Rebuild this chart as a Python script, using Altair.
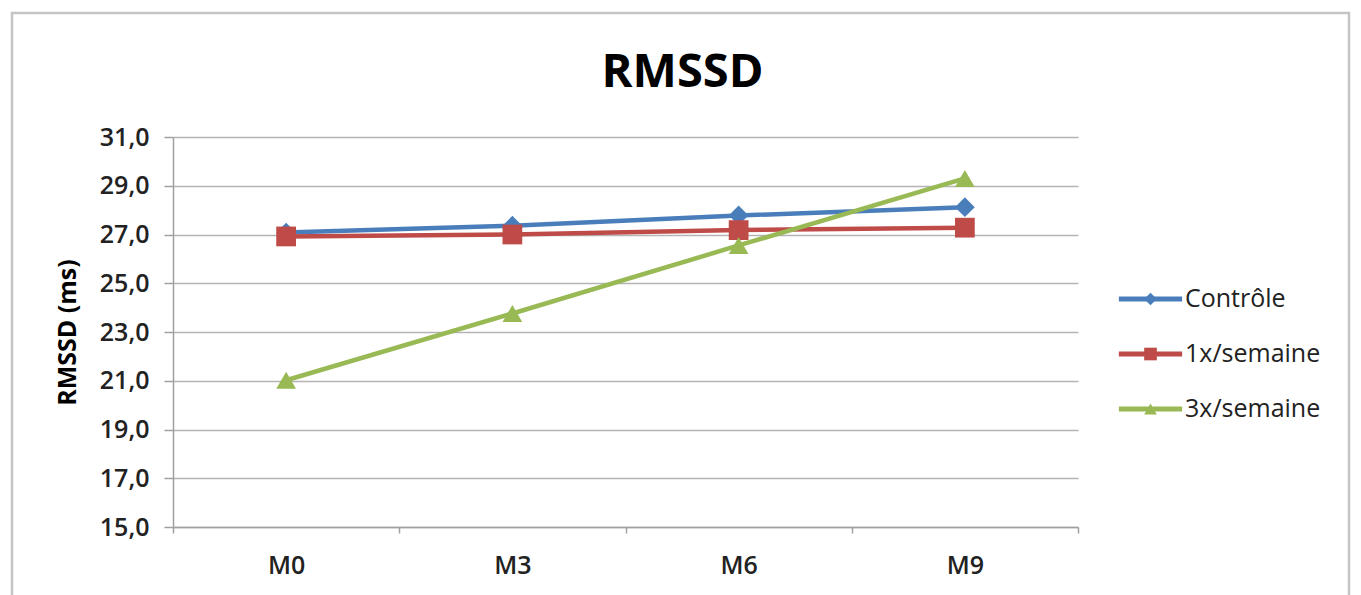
import altair as alt
import pandas as pd

# ---- data ----
months = ["M0", "M3", "M6", "M9"]
series_names = ["Contrôle", "1x/semaine", "3x/semaine"]
controle = [27.08, 27.36, 27.78, 28.12]
une_fois = [26.92, 27.00, 27.18, 27.28]
trois_fois = [21.02, 23.76, 26.55, 29.30]
y_ticks = [15, 17, 19, 21, 23, 25, 27, 29, 31]

colors = ["#4a7ebb", "#be4b48", "#98b954"]
shapes = ["diamond", "square", "triangle-up"]

rows = []
for name, vals in zip(series_names, [controle, une_fois, trois_fois]):
    for m, v in zip(months, vals):
        rows.append({"mois": m, "serie": name, "serie_m": name, "rmssd": v})
df = pd.DataFrame(rows)

FONT = "Open Sans"
GRID = "#b4b4b4"
AXIS = "#a0a0a0"
TXT = "#222222"

x_enc = alt.X(
    "mois:N",
    sort=months,
    scale=alt.Scale(type="band", paddingInner=0, paddingOuter=0),
    axis=alt.Axis(
        title=None, tickBand="extent", labelAngle=0, labelFont=FONT,
        labelFontSize=25, labelFontWeight=600, labelColor=TXT, labelPadding=20,
        tickSize=6, tickColor=AXIS, tickWidth=1.5, domainColor=AXIS,
        domainWidth=1.5, grid=False,
    ),
)
y_enc = alt.Y(
    "rmssd:Q",
    scale=alt.Scale(domain=[15, 31], nice=False, zero=False),
    axis=alt.Axis(
        title="RMSSD (ms)", values=y_ticks,
        labelExpr="replace(format(datum.value, '.1f'), '.', ',')",
        labelFont=FONT, labelFontSize=25, labelFontWeight=600, labelColor=TXT,
        labelPadding=15, tickSize=9, tickColor=AXIS, tickWidth=1.5,
        domainColor=AXIS, domainWidth=1.5, grid=True, gridColor=GRID,
        gridWidth=1.5, titleFont=FONT, titleFontSize=25, titleFontWeight="bold",
        titleColor="#000000", titleX=-106, titleY=195, titleAngle=270,
        titleAlign="center", titleBaseline="middle",
    ),
)

LX, LY = 965, 149.5
common_legend = dict(
    orient="none", legendX=LX, legendY=LY, title=None, padding=0,
    labelFont=FONT, labelFontSize=25, labelColor=TXT, rowPadding=29,
    symbolSize=160, labelOffset=22, direction="vertical",
)

frame = alt.Chart(alt.Data(values=[{"k": 1}])).mark_rect(
    fillOpacity=0, stroke="#c4c4c4", strokeWidth=2.5
).encode(
    x=alt.value(-161), x2=alt.value(1176), y=alt.value(-124), y2=alt.value(490)
)

lines = alt.Chart(df).mark_line(strokeWidth=4.5).encode(
    x=x_enc,
    y=y_enc,
    color=alt.Color(
        "serie:N", sort=series_names, scale=alt.Scale(range=colors),
        legend=alt.Legend(symbolType="M-5,0H5", symbolStrokeWidth=5,
                          labelOpacity=0, **common_legend),
    ),
)

points = alt.Chart(df).mark_point(filled=True, size=390, opacity=1, strokeWidth=0).encode(
    x=x_enc,
    y=y_enc,
    fill=alt.Fill(
        "serie_m:N", scale=alt.Scale(domain=series_names, range=colors),
        legend=alt.Legend(symbolStrokeWidth=0, symbolOpacity=1, **common_legend),
    ),
    shape=alt.Shape(
        "serie_m:N", scale=alt.Scale(domain=series_names, range=shapes),
        legend=alt.Legend(symbolStrokeWidth=0, symbolOpacity=1, **common_legend),
    ),
)

chart = alt.layer(frame, lines, points).properties(
    width=905,
    height=390,
    padding={"left": 10, "top": 11, "right": 0, "bottom": 0},
    title=alt.TitleParams(
        "RMSSD", font=FONT, fontSize=47, fontWeight="bold", color="#000000",
        anchor="middle", frame="group", offset=0, baseline="alphabetic",
        dx=57, dy=122,
    ),
).configure_view(stroke=None)

chart.save("out.html", embed_options={"renderer": "svg", "actions": False})
